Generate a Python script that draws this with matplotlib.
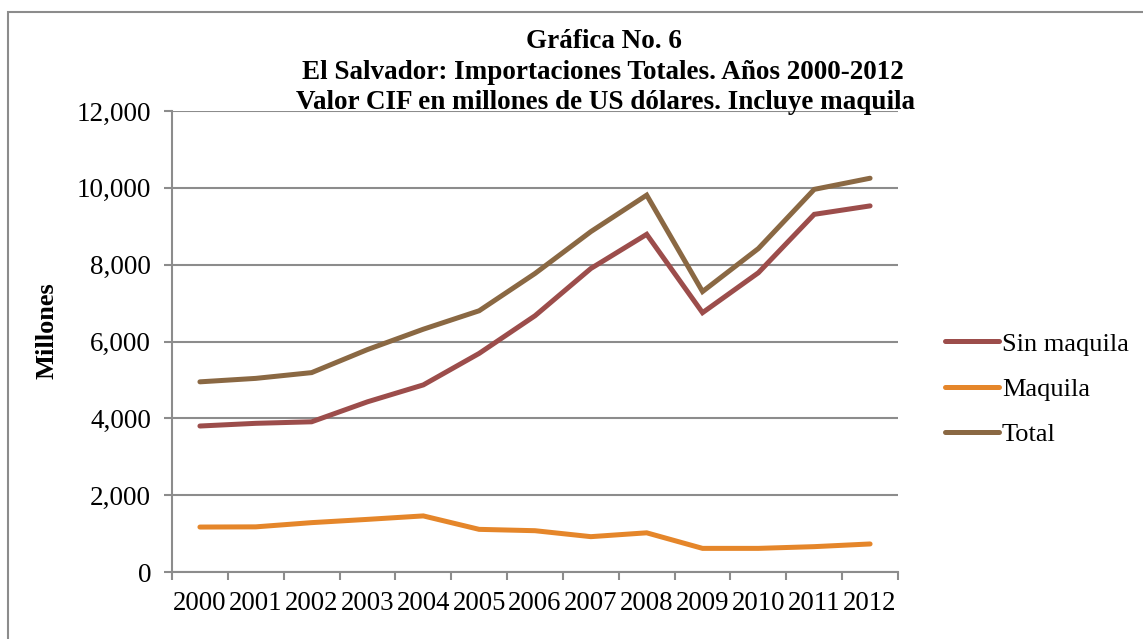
#!/usr/bin/env python3
import matplotlib
matplotlib.use("Agg")
import matplotlib.pyplot as plt
import numpy as np
from matplotlib.ticker import FuncFormatter, FixedLocator
from matplotlib.patches import Rectangle

# data (millones US$)
years = ["2000", "2001", "2002", "2003", "2004", "2005", "2006",
         "2007", "2008", "2009", "2010", "2011", "2012"]
sin_maquila = [3800, 3870, 3910, 4430, 4870, 5690, 6670, 7900, 8790, 6750, 7790, 9310, 9530]
maquila = [1170, 1175, 1285, 1370, 1460, 1110, 1075, 920, 1020, 615, 615, 660, 730]
total = [4950, 5040, 5190, 5790, 6320, 6800, 7770, 8860, 9810, 7300, 8420, 9960, 10250]

c_sin = "#9C4D4B"
c_maq = "#E5862A"
c_tot = "#8A6843"
grid_c = "#8C8C8C"

plt.rcParams["font.family"] = ["Liberation Serif", "DejaVu Serif"]

W, H = 1143, 639
fig = plt.figure(figsize=(W / 100, H / 100), dpi=100)
ax = fig.add_axes([172 / W, 1 - 572 / H, (898 - 172) / W, (572 - 111) / H])

x = np.arange(len(years))
ax.plot(x, sin_maquila, color=c_sin, lw=3.6, solid_capstyle="round", solid_joinstyle="miter", label="Sin maquila")
ax.plot(x, maquila, color=c_maq, lw=3.6, solid_capstyle="round", solid_joinstyle="miter", label="Maquila")
ax.plot(x, total, color=c_tot, lw=3.6, solid_capstyle="round", solid_joinstyle="miter", label="Total")

ax.set_xlim(-0.5, len(years) - 0.5)
ax.set_ylim(0, 12000)
ax.set_yticks(np.arange(0, 12001, 2000))
ax.yaxis.set_major_formatter(FuncFormatter(lambda v, p: f"{int(v):,}"))
ax.grid(axis="y", color=grid_c, lw=1.5)
ax.set_axisbelow(True)

ax.set_xticks(x)
ax.set_xticklabels(years)
ax.xaxis.set_minor_locator(FixedLocator(np.arange(-0.5, len(years), 1.0)))
ax.tick_params(axis="x", which="major", length=0, pad=14, labelsize=19.3)
ax.tick_params(axis="x", which="minor", length=6, width=1.5, color=grid_c, direction="out")
ax.tick_params(axis="y", length=6, width=1.5, color=grid_c, pad=9, labelsize=19.5)

for s in ["top", "right"]:
    ax.spines[s].set_visible(False)
for s in ["left", "bottom"]:
    ax.spines[s].set_color(grid_c)
    ax.spines[s].set_linewidth(1.5)

fig.text(47 / W, 1 - 331 / H, "Millones", rotation=90, fontsize=19, fontweight="bold",
         ha="center", va="center")

fig.text(604 / W, 1 - 48 / H, "Gráfica No. 6", fontsize=19.5, fontweight="bold", ha="center", va="baseline")
fig.text(603 / W, 1 - 79 / H, "El Salvador: Importaciones Totales. Años 2000-2012", fontsize=19.5,
         fontweight="bold", ha="center", va="baseline")
fig.text(606 / W, 1 - 109 / H, "Valor CIF en millones de US dólares. Incluye maquila", fontsize=19.5,
         fontweight="bold", ha="center", va="baseline")

leg = fig.legend(loc="center left", bbox_to_anchor=(945 / W, 1 - 389 / H), frameon=False,
                 fontsize=19, handlelength=2.05, handletextpad=0.1, labelspacing=0.82,
                 borderaxespad=0, borderpad=0)

# outer frame of the chart area
fig.patches.append(Rectangle((8 / W, -0.1), 1.2, 1 - 12 / H + 0.1, transform=fig.transFigure,
                             fill=False, edgecolor="#8C8C8C", lw=1.5))

fig.savefig("out.png", dpi=100)
